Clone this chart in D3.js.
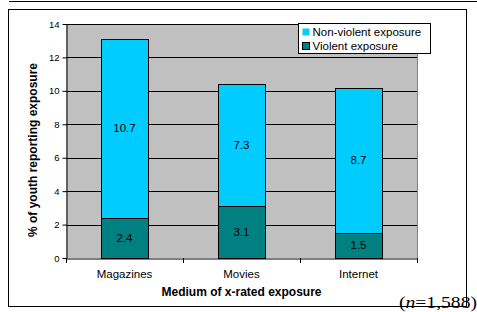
<!DOCTYPE html>
<html>
<head>
<meta charset="utf-8">
<script src="https://cdn.jsdelivr.net/npm/d3@7"></script>
<style>
  body { margin: 0; background: #fff; }
  svg { display: block; font-family: "Liberation Sans", Arial, sans-serif; }
</style>
</head>
<body>
<div id="chart"></div>
<script>
let categories = ["Magazines", "Movies", "Internet"];
let violent = [2.4, 3.1, 1.5];
let nonViolent = [10.7, 7.3, 8.7];
let seriesNames = ["Non-violent exposure", "Violent exposure"];
let yTicks = [0, 2, 4, 6, 8, 10, 12, 14];

let W = 477, H = 312;
let plot = { left: 66, top: 24, right: 417, bottom: 258 };

let svg = d3.select("#chart").append("svg")
    .attr("width", W)
    .attr("height", H);

// top rule and outer frame
svg.append("line")
    .attr("x1", 9).attr("x2", W).attr("y1", 1.5).attr("y2", 1.5)
    .attr("stroke", "#000").attr("stroke-width", 1.2);
svg.append("rect")
    .attr("x", 8.5).attr("y", 9.5)
    .attr("width", 458).attr("height", 297)
    .attr("fill", "#fff").attr("stroke", "#000");

let x = d3.scaleBand()
    .domain(categories)
    .range([plot.left, plot.right]);

let y = d3.scaleLinear()
    .domain([0, 14])
    .range([plot.bottom, plot.top]);

// plot area
svg.append("rect")
    .attr("x", plot.left).attr("y", plot.top)
    .attr("width", plot.right - plot.left)
    .attr("height", plot.bottom - plot.top)
    .attr("fill", "#C0C0C0");
svg.append("line")
    .attr("x1", plot.right + 0.5).attr("x2", plot.right + 0.5)
    .attr("y1", plot.top).attr("y2", plot.bottom)
    .attr("stroke", "#808080");

// gridlines
svg.append("g")
    .selectAll("line")
    .data(yTicks.filter(d => d > 0))
    .join("line")
    .attr("x1", plot.left).attr("x2", plot.right)
    .attr("y1", d => Math.round(y(d)) + 0.5)
    .attr("y2", d => Math.round(y(d)) + 0.5)
    .attr("stroke", "#000");

// y axis
let yAxis = d3.axisLeft(y)
    .tickValues(yTicks)
    .tickSize(4)
    .tickPadding(3)
    .tickSizeOuter(0);
svg.append("g")
    .attr("transform", "translate(" + (plot.left + 0.5) + ",0)")
    .call(yAxis)
    .call(g => g.selectAll("text").style("font-size", "9.5px").attr("fill", "#000"))
    .call(g => g.select(".domain").attr("stroke", "#000"));

// x axis (ticks between categories)
let xAxis = d3.axisBottom(x).tickSize(0).tickPadding(11);
svg.append("g")
    .attr("transform", "translate(0," + (plot.bottom + 0.5) + ")")
    .call(xAxis)
    .call(g => g.selectAll("text").style("font-size", "11.5px").attr("fill", "#000"))
    .call(g => g.select(".domain").attr("stroke", "#000"));
svg.append("g")
    .selectAll("line")
    .data(d3.range(categories.length + 1))
    .join("line")
    .attr("x1", i => Math.round(plot.left + i * x.step()) + 0.5)
    .attr("x2", i => Math.round(plot.left + i * x.step()) + 0.5)
    .attr("y1", plot.bottom)
    .attr("y2", plot.bottom + 5)
    .attr("stroke", "#000");

// bars
let barW = 0.4 * x.bandwidth();
let stacks = categories.map((c, i) => ({
    cat: c,
    segs: [
        { v: violent[i], y0: 0, y1: violent[i], color: "#008080" },
        { v: nonViolent[i], y0: violent[i], y1: violent[i] + nonViolent[i], color: "#00CCFF" }
    ]
}));

let groups = svg.append("g").selectAll("g")
    .data(stacks)
    .join("g");

groups.selectAll("rect")
    .data(d => d.segs.map(s => Object.assign({ cat: d.cat }, s)))
    .join("rect")
    .attr("x", d => Math.round(x(d.cat) + (x.bandwidth() - barW) / 2) + 0.5)
    .attr("y", d => Math.round(y(d.y1)) + 0.5)
    .attr("width", Math.round(barW))
    .attr("height", d => Math.round(y(d.y0)) - Math.round(y(d.y1)))
    .attr("fill", d => d.color)
    .attr("stroke", "#000");

groups.selectAll("text")
    .data(d => d.segs.map(s => Object.assign({ cat: d.cat }, s)))
    .join("text")
    .attr("x", d => x(d.cat) + x.bandwidth() / 2)
    .attr("y", d => (y(d.y0) + y(d.y1)) / 2)
    .attr("dy", "0.35em")
    .attr("text-anchor", "middle")
    .style("font-size", "11.5px")
    .text(d => d.v.toFixed(1));

// axis titles
svg.append("text")
    .attr("x", (plot.left + plot.right) / 2)
    .attr("y", 296)
    .attr("text-anchor", "middle")
    .style("font-size", "12px")
    .style("font-weight", "bold")
    .text("Medium of x-rated exposure");

svg.append("text")
    .attr("transform", "translate(37,150) rotate(-90)")
    .attr("text-anchor", "middle")
    .style("font-size", "12px")
    .style("font-weight", "bold")
    .text("% of youth reporting exposure");

// legend
let legend = svg.append("g").attr("transform", "translate(298.5,23.5)");
legend.append("rect")
    .attr("width", 132).attr("height", 30)
    .attr("fill", "#fff").attr("stroke", "#000");
let legendColors = ["#00CCFF", "#008080"];
let items = legend.selectAll("g")
    .data(seriesNames)
    .join("g")
    .attr("transform", (d, i) => "translate(4," + (4 + i * 14) + ")");
items.append("rect")
    .attr("width", 7).attr("height", 7).attr("y", 1)
    .attr("fill", (d, i) => legendColors[i])
    .attr("stroke", (d, i) => i === 1 ? "#000" : "none");
items.append("text")
    .attr("x", 10).attr("y", 4.5).attr("dy", "0.35em")
    .style("font-size", "11.5px")
    .text(d => d);

// sample note
svg.append("text")
    .attr("x", 399)
    .attr("y", 308)
    .attr("textLength", 78)
    .attr("lengthAdjust", "spacingAndGlyphs")
    .style("font-family", "'Liberation Serif', 'Times New Roman', serif")
    .style("font-size", "16px")
    .html("(<tspan font-style='italic'>n</tspan>=1,588)");
</script>
</body>
</html>
